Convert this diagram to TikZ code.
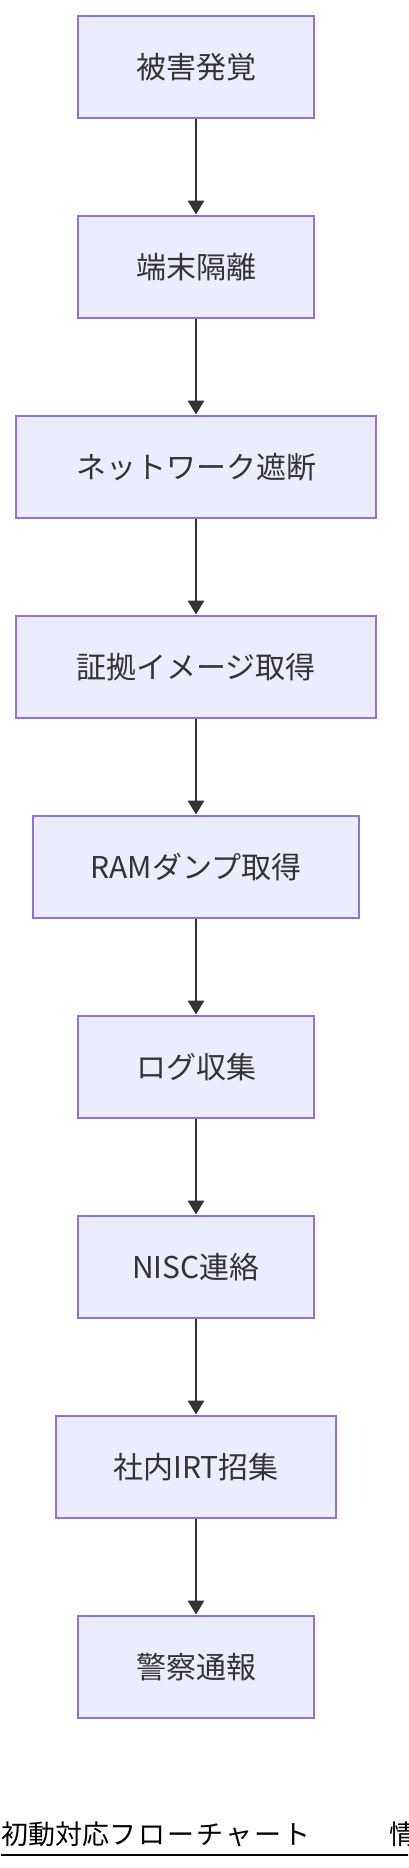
\documentclass[tikz,border=0pt]{standalone}
\usepackage{fontspec}
\setmainfont{Noto Sans CJK JP}
\newfontfamily\titlefont{Noto Sans CJK JP}
\usetikzlibrary{arrows.meta}
\definecolor{boxfill}{HTML}{ECECFF}
\definecolor{boxline}{HTML}{9370DB}
\definecolor{inkgray}{HTML}{333333}
\tikzset{
    stepbox/.style={draw=boxline, fill=boxfill, line width=2pt, minimum height=102.3pt,
        text=inkgray, font=\fontsize{30}{36}\selectfont, inner sep=0pt},
    flow/.style={draw=inkgray, line width=2.5pt, -{Triangle[length=14pt, width=16pt]}}
}
\newcommand{\drawS}[4]{
    \node[stepbox, minimum width=#3pt] (#1) at (196,#2) {#4};
}
\newcommand{\drawA}[2]{
    \draw[flow] (#1) -- (#2);
}

\begin{document}
\begin{tikzpicture}[x=1pt, y=-1pt]
    \useasboundingbox (0,0) rectangle (408,1868);
    \clip (0,0) rectangle (408,1868);

    % Steps
        \drawS{higai}{66.8}{236.6}{被害発覚}
        \drawS{kakuri}{266.8}{236.6}{端末隔離}
        \drawS{shadan}{466.8}{360}{ネットワーク遮断}
        \drawS{shoko}{666.8}{360}{証拠イメージ取得}
        \drawS{ram}{866.8}{325.7}{RAMダンプ取得}
        \drawS{log}{1066.8}{236.6}{ログ収集}
        \drawS{nisc}{1266.8}{236.6}{NISC連絡}
        \drawS{irt}{1466.8}{280}{社内IRT招集}
        \drawS{keisatsu}{1666.8}{236.6}{警察通報}

    % Arrows
        \drawA{higai}{kakuri}
        \drawA{kakuri}{shadan}
        \drawA{shadan}{shoko}
        \drawA{shoko}{ram}
        \drawA{ram}{log}
        \drawA{log}{nisc}
        \drawA{nisc}{irt}
        \drawA{irt}{keisatsu}

    % Title
        \node[anchor=base west, inner sep=0pt, font=\titlefont\fontsize{27}{31}\selectfont]
            (title) at (1,1844) {初動対応{\addfontfeatures{LetterSpace=8}フローチャート}　\hspace{52pt}情};
        \draw[line width=2pt] ([yshift=-11pt]title.base west) -- ++(420,0);
\end{tikzpicture}
\end{document}
